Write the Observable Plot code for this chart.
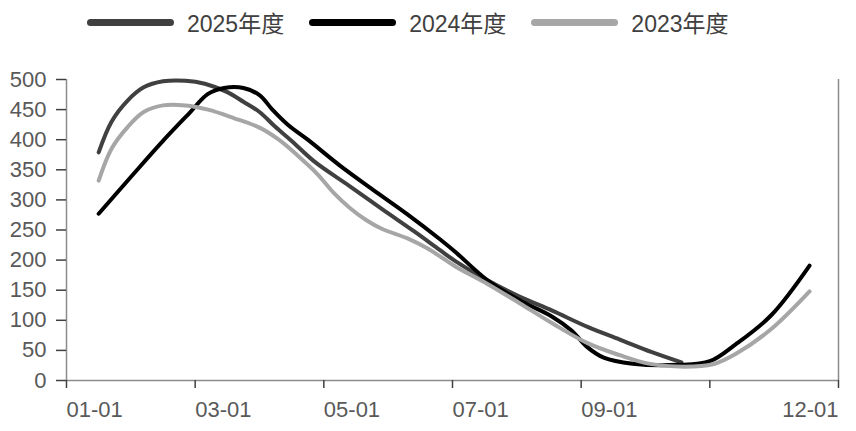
<!DOCTYPE html>
<html>
<head>
<meta charset="utf-8">
<script src="https://cdn.jsdelivr.net/npm/d3@7"></script>
<script src="https://cdn.jsdelivr.net/npm/@observablehq/plot@0.6"></script>
<style>
  html, body { margin: 0; padding: 0; background: #fff; }
  #legend { height: 44px; display: flex; align-items: center; padding-left: 87px; box-sizing: border-box;
            font-family: "Liberation Sans", "Noto Sans CJK SC", sans-serif; font-size: 23px; color: #404040; }
  .item { display: flex; align-items: center; margin-right: 25px; }
  .sw { width: 87px; height: 7px; border-radius: 4px; margin-right: 13px; }
</style>
</head>
<body>
<div id="legend"></div>
<div id="chart"></div>
<script>
// Series names and colours
const seriesNames = ["2025年度", "2024年度", "2023年度"];
const seriesColors = ["#404040", "#000000", "#a6a6a6"];

// x positions are in months since 01-01
const x2025 = [0.5, 0.7, 0.95, 1.2, 1.5, 1.85, 2.15, 2.5, 2.75, 3.0, 3.25, 3.5, 3.85, 4.4, 4.9, 5.4, 5.8, 6.05, 6.55, 7.05, 7.55, 8.1, 8.6, 9.1, 9.56];
const v2025 = [379, 430, 465, 487, 497, 498, 493, 479, 463, 446, 421, 398, 364, 323, 285, 248, 217, 198, 166, 139, 116, 89, 68, 47, 30];

const x2024 = [0.5, 1.0, 1.5, 1.9, 2.2, 2.45, 2.75, 3.0, 3.2, 3.45, 3.75, 4.25, 4.75, 5.3, 5.8, 6.05, 6.55, 7.05, 7.55, 7.85, 8.1, 8.35, 8.8, 9.5, 10.0, 10.4, 10.95, 11.55];
const v2024 = [277, 338, 398, 443, 476, 486, 486, 474, 450, 424, 400, 357, 318, 276, 235, 213, 166, 133, 106, 83, 55, 38, 28, 26, 32, 60, 108, 191];

const x2023 = [0.5, 0.7, 0.95, 1.2, 1.5, 1.85, 2.2, 2.6, 3.0, 3.3, 3.6, 3.9, 4.15, 4.4, 4.65, 4.9, 5.3, 5.6, 5.85, 6.05, 6.55, 7.05, 7.55, 8.1, 8.6, 9.05, 9.6, 10.05, 10.4, 10.95, 11.55];
const v2023 = [332, 385, 421, 446, 457, 457, 450, 436, 420, 400, 373, 343, 312, 287, 267, 252, 236, 220, 203, 189, 160, 128, 95, 62, 42, 28, 23, 27, 44, 85, 148];

// Axis ticks and labels
const xTicks = [0, 2, 4, 6, 8, 10, 12];
const xTickLabels = ["01-01", "03-01", "05-01", "07-01", "09-01", "", "12-01"];
const yTicks = [0, 50, 100, 150, 200, 250, 300, 350, 400, 450, 500];

const rows = [];
[[x2025, v2025], [x2024, v2024], [x2023, v2023]].forEach(([xs, vs], i) => {
  xs.forEach((x, j) => rows.push({series: seriesNames[i], m: x, v: vs[j]}));
});

const lbl = d => xTickLabels[xTicks.indexOf(d)];

// Legend
const legend = document.getElementById("legend");
seriesNames.forEach((n, i) => {
  const it = document.createElement("div");
  it.className = "item";
  const sw = document.createElement("div");
  sw.className = "sw";
  sw.style.background = seriesColors[i];
  const t = document.createElement("span");
  t.textContent = n;
  it.appendChild(sw); it.appendChild(t);
  legend.appendChild(it);
});

const axisGrey = "#8c8c8c";
const chart = Plot.plot({
  width: 856,
  height: 387,
  marginTop: 35,
  marginBottom: 51,
  marginLeft: 66,
  marginRight: 18,
  style: {fontFamily: "Liberation Sans, sans-serif", fontSize: "22px", color: "#595959", background: "#fff"},
  x: {domain: [0, 12]},
  y: {domain: [0, 500]},
  color: {domain: seriesNames, range: seriesColors},
  marks: [
    Plot.ruleY([0], {stroke: axisGrey, strokeWidth: 1.5}),
    Plot.ruleX([0], {y1: 0, y2: 500, stroke: axisGrey, strokeWidth: 1.5}),
    Plot.ruleX([12], {y1: 0, y2: 500, stroke: axisGrey, strokeWidth: 1.5}),
    Plot.axisY(yTicks, {tickSize: 10, tickPadding: 10, stroke: "#404040", strokeWidth: 1.5, label: null, fontSize: 22}),
    Plot.axisX(xTicks.slice(0, 5), {tickSize: 8, tickPadding: 13, tickFormat: lbl, textAnchor: "start", stroke: "#404040", strokeWidth: 1.5, label: null, fontSize: 22}),
    Plot.axisX([xTicks[5]], {tickSize: 8, tickFormat: lbl, stroke: "#404040", strokeWidth: 1.5, label: null}),
    Plot.axisX([xTicks[6]], {tickSize: 8, tickPadding: 13, tickFormat: lbl, textAnchor: "end", stroke: "#404040", strokeWidth: 1.5, label: null, fontSize: 22}),
    Plot.line(rows, {x: "m", y: "v", z: "series", stroke: "series", curve: "catmull-rom", strokeWidth: 4})
  ]
});
document.getElementById("chart").appendChild(chart);
</script>
</body>
</html>
